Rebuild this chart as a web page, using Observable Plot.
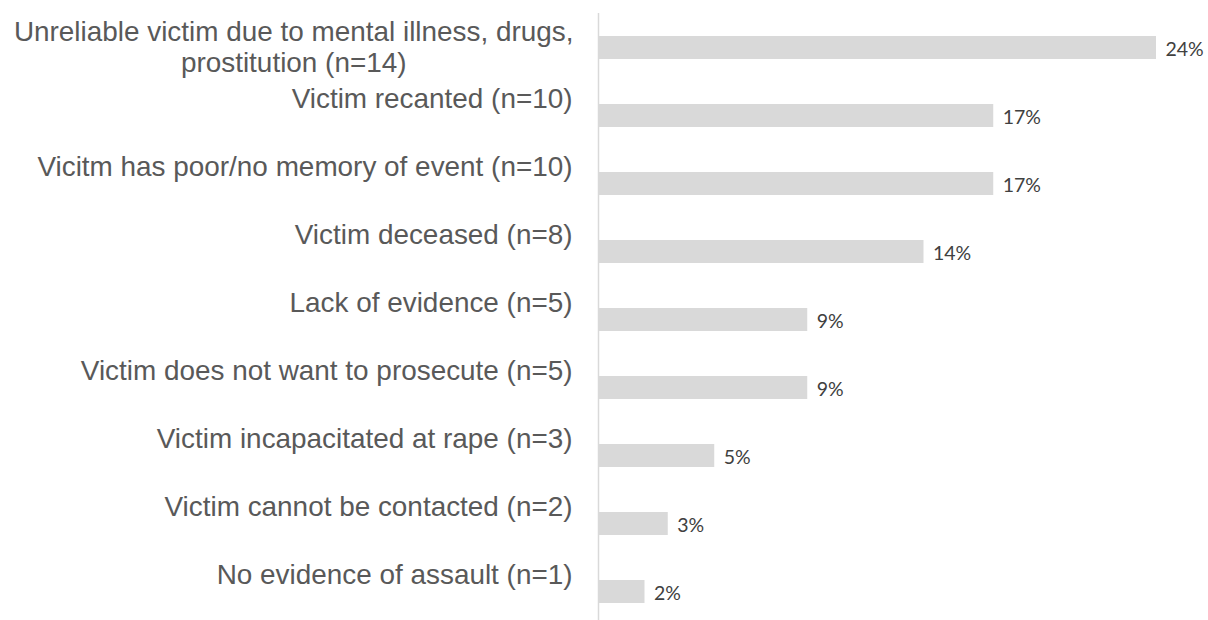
<!DOCTYPE html>
<html>
<head>
<meta charset="utf-8">
<script src="https://cdn.jsdelivr.net/npm/d3@7"></script>
<script src="https://cdn.jsdelivr.net/npm/@observablehq/plot@0.6"></script>
<style>
  html, body { margin: 0; padding: 0; background: #ffffff; }
  #chart { width: 1208px; height: 620px; }
</style>
</head>
<body>
<div id="chart"></div>
<script>
const categories = [
  "Unreliable victim due to mental illness, drugs,\nprostitution (n=14)",
  "Victim recanted (n=10)",
  "Vicitm has poor/no memory of event (n=10)",
  "Victim deceased (n=8)",
  "Lack of evidence (n=5)",
  "Victim does not want to prosecute (n=5)",
  "Victim incapacitated at rape (n=3)",
  "Victim cannot be contacted (n=2)",
  "No evidence of assault (n=1)"
];
const percents = [24, 17, 17, 14, 9, 9, 5, 3, 2];
const valueLabels = ["24%", "17%", "17%", "14%", "9%", "9%", "5%", "3%", "2%"];

const rows = categories.map((c, i) => ({cat: c, pct: percents[i], lbl: valueLabels[i], multi: c.includes("\n")}));

const labelFont = "'Liberation Sans', Arial, sans-serif";
const valueFont = "Lato, 'Open Sans', sans-serif";

const chart = Plot.plot({
  width: 1208,
  height: 620,
  marginLeft: 598,
  marginRight: 28.75,
  marginTop: 35,
  marginBottom: 15.7,
  x: {domain: [0, 25], axis: null},
  y: {domain: categories, axis: null, paddingInner: 0.655, paddingOuter: 0},
  style: {background: "#ffffff", overflow: "visible"},
  marks: [
    Plot.barX(rows, {x: "pct", y: "cat", fill: "#d9d9d9"}),
    Plot.ruleX([0], {stroke: "#d9d9d9", strokeWidth: 1.5, insetTop: -22, insetBottom: -16}),
    Plot.text(rows.filter(d => !d.multi), {
      x: () => 0, y: "cat", text: d => d.cat, textAnchor: "end", dx: -26, dy: -17.2,
      fontSize: 27.9, fontFamily: labelFont, fill: "#595959"
    }),
    Plot.text(rows.filter(d => d.multi), {
      x: () => 0, y: "cat", text: d => d.cat, textAnchor: "middle", dx: -304.8, dy: -1.4,
      lineHeight: 1.12, fontSize: 27.9, fontFamily: labelFont, fill: "#595959"
    }),
    Plot.text(rows, {
      x: "pct", y: "cat", text: "lbl", textAnchor: "start", dx: 9, dy: 1.6,
      fontSize: 19.5, fontFamily: valueFont, fill: "#404040"
    })
  ]
});
document.getElementById("chart").appendChild(chart);
</script>
</body>
</html>
